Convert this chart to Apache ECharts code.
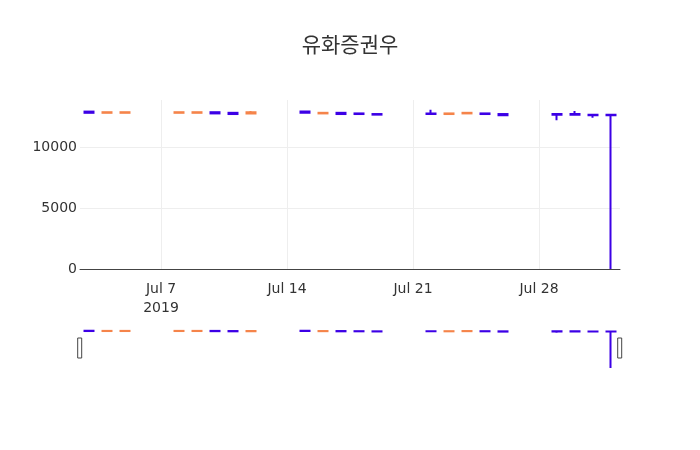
<!DOCTYPE html>
<html>
<head>
<meta charset="utf-8">
<script src="https://cdn.jsdelivr.net/npm/echarts@6/dist/echarts.min.js"></script>
<style>
    html, body { margin: 0; padding: 0; background: #fff; }
    #chart { width: 700px; height: 450px; }
</style>
</head>
<body>
<div id="chart"></div>
<script>
// Daily prices (trading days only)
const dates = [
    '2019-07-03', '2019-07-04', '2019-07-05',
    '2019-07-08', '2019-07-09', '2019-07-10', '2019-07-11', '2019-07-12',
    '2019-07-15', '2019-07-16', '2019-07-17', '2019-07-18', '2019-07-19',
    '2019-07-22', '2019-07-23', '2019-07-24', '2019-07-25', '2019-07-26',
    '2019-07-29', '2019-07-30', '2019-07-31', '2019-08-01'
];
const opens  = [12900, 12800, 12800, 12800, 12800, 12850, 12800, 12750, 12900, 12750, 12800, 12750, 12700, 12750, 12700, 12750, 12750, 12700, 12700, 12700, 12650, 12650];
const closes = [12800, 12850, 12850, 12850, 12850, 12750, 12700, 12850, 12800, 12800, 12700, 12700, 12650, 12700, 12750, 12800, 12700, 12600, 12650, 12650, 12600, 12600];
const lows   = [12800, 12800, 12800, 12800, 12800, 12750, 12700, 12750, 12800, 12750, 12700, 12700, 12650, 12650, 12700, 12750, 12700, 12600, 12200, 12650, 12400, 0];
const highs  = [12900, 12850, 12850, 12850, 12850, 12850, 12800, 12950, 12950, 12800, 12800, 12750, 12700, 13050, 12750, 12800, 12750, 12700, 12700, 12950, 12650, 12650];

const tickDates = ['2019-07-07', '2019-07-14', '2019-07-21', '2019-07-28'];
const monthNames = ['Jan', 'Feb', 'Mar', 'Apr', 'May', 'Jun', 'Jul', 'Aug', 'Sep', 'Oct', 'Nov', 'Dec'];

const HALF_DAY = 12 * 3600 * 1000;
const yMax = 13850;

const upColor = '#f5844a';
const downColor = '#3c00e6';
const labelFont = 'DejaVu Sans';

// 'yyyy-mm-dd' -> local timestamp
function toTime(s) {
    const p = s.split('-').map(Number);
    return new Date(p[0], p[1] - 1, p[2]).getTime();
}

const xMin = toTime(dates[0]) - HALF_DAY;
const xMax = toTime(dates[dates.length - 1]) + HALF_DAY;
const tickTimes = tickDates.map(toTime);

const chart = echarts.init(document.getElementById('chart'));

// [time, open, close, low, high]
const candles = dates.map((d, i) => [toTime(d), opens[i], closes[i], lows[i], highs[i]]);

function candleSeries(idx, width) {
    return {
        type: 'candlestick',
        xAxisIndex: idx,
        yAxisIndex: idx,
        data: candles,
        encode: { x: 0, y: [1, 2, 3, 4] },
        barWidth: width,
        itemStyle: {
            color: upColor,
            color0: downColor,
            borderColor: upColor,
            borderColor0: downColor,
            borderWidth: 2
        },
        emphasis: { disabled: true }
    };
}

const option = {
    backgroundColor: '#fff',
    animation: false,
    title: {
        text: '유화증권우',
        left: 'center',
        top: 29,
        textStyle: {
            fontFamily: 'Noto Sans CJK KR',
            fontSize: 21,
            fontWeight: 'normal',
            color: '#333'
        }
    },
    grid: [
        { left: 80, right: 80, top: 100, height: 169 },
        { left: 80, right: 80, top: 328, height: 40 }
    ],
    xAxis: [
        {
            type: 'value',
            gridIndex: 0,
            min: xMin,
            max: xMax,
            axisLine: { show: true, lineStyle: { color: '#444', width: 1 } },
            axisTick: { show: false, customValues: tickTimes },
            axisLabel: {
                customValues: tickTimes,
                color: '#333',
                fontFamily: labelFont,
                fontSize: 14,
                margin: 11,
                lineHeight: 19,
                formatter: function (value) {
                    const d = new Date(value);
                    let s = monthNames[d.getMonth()] + ' ' + d.getDate();
                    if (value === tickTimes[0]) s += '\n' + d.getFullYear();
                    return s;
                }
            },
            splitLine: { show: true, lineStyle: { color: '#eee', width: 1 } }
        },
        {
            type: 'value',
            gridIndex: 1,
            min: xMin,
            max: xMax,
            show: false
        }
    ],
    yAxis: [
        {
            type: 'value',
            gridIndex: 0,
            min: 0,
            max: yMax,
            interval: 5000,
            axisLine: { show: false },
            axisTick: { show: false },
            axisLabel: {
                color: '#333',
                fontFamily: labelFont,
                fontSize: 14,
                margin: 3,
                showMaxLabel: false,
                formatter: function (value) { return String(value); }
            },
            splitLine: {
                show: true,
                showMinLine: false,
                showMaxLine: false,
                lineStyle: { color: '#eee', width: 1 }
            }
        },
        {
            type: 'value',
            gridIndex: 1,
            min: 0,
            max: yMax,
            show: false
        }
    ],
    dataZoom: [{
        type: 'slider',
        xAxisIndex: [0, 1],
        filterMode: 'none',
        start: 0,
        end: 100,
        left: 78,
        right: 80,
        top: 328,
        height: 40,
        backgroundColor: 'rgba(0,0,0,0)',
        borderColor: 'rgba(0,0,0,0)',
        fillerColor: 'rgba(0,0,0,0)',
        showDetail: false,
        showDataShadow: false,
        brushSelect: false,
        moveHandleSize: 0,
        handleIcon: 'path://M0,0 L4,0 L4,20 L0,20 Z',
        handleSize: '50%',
        handleStyle: { color: '#fff', borderColor: '#444', borderWidth: 1 },
        emphasis: { handleStyle: { color: '#fff', borderColor: '#444', borderWidth: 1 } }
    }],
    series: [
        candleSeries(0, 10),
        candleSeries(1, 10)
    ]
};

chart.setOption(option);
</script>
</body>
</html>
